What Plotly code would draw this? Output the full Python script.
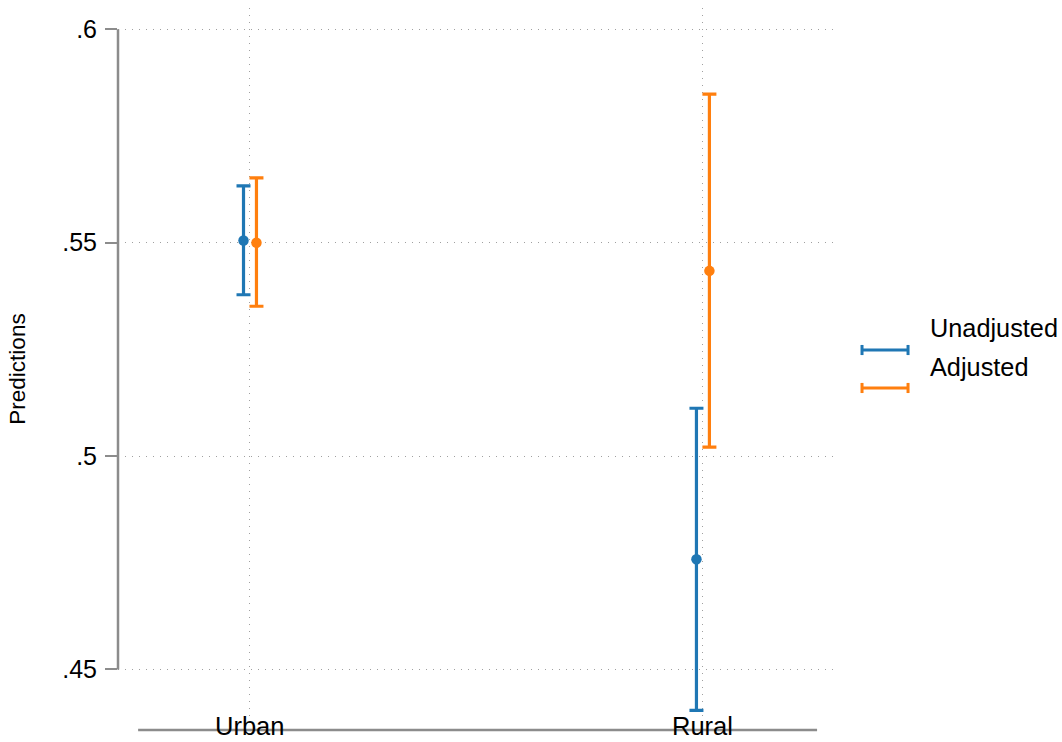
import plotly.graph_objects as go

categories = ["Urban", "Rural"]
series_names = ["Unadjusted", "Adjusted"]
unadj_est = [0.5505, 0.4758]
unadj_lo = [0.5378, 0.4404]
unadj_hi = [0.5633, 0.5112]
adj_est = [0.5500, 0.5434]
adj_lo = [0.5351, 0.5021]
adj_hi = [0.5652, 0.5848]
ytick_vals = [0.45, 0.50, 0.55, 0.60]
ytick_text = [".45", ".5", ".55", ".6"]

colors = ["#1f77b4", "#ff7f0e"]
offsets = [-0.0143, 0.0143]
FONT = "Liberation Sans, Arial, sans-serif"
GRID = "#a0a0a0"
AXIS = "#8c8c8c"

xpos = list(range(1, len(categories) + 1))

fig = go.Figure()
for name, est, lo, hi, col, off in zip(
    series_names,
    [unadj_est, adj_est],
    [unadj_lo, adj_lo],
    [unadj_hi, adj_hi],
    colors,
    offsets,
):
    fig.add_trace(
        go.Scatter(
            x=[p + off for p in xpos],
            y=est,
            mode="markers",
            name=name,
            marker=dict(color=col, size=10.5),
            error_y=dict(
                type="data",
                symmetric=False,
                array=[h - e for h, e in zip(hi, est)],
                arrayminus=[e - l for e, l in zip(est, lo)],
                color=col,
                thickness=3.2,
                width=7,
            ),
            showlegend=False,
        )
    )

# y axis line (only spans tick range)
fig.add_shape(type="line", xref="paper", yref="y", x0=0, x1=0,
              y0=ytick_vals[0], y1=ytick_vals[-1],
              line=dict(color=AXIS, width=2.5))
# x axis line
fig.add_shape(type="line", xref="x", yref="paper", x0=0.753, x1=2.252,
              y0=0, y1=0, line=dict(color=AXIS, width=2.5))

# category labels
for xp, cat in zip(xpos, categories):
    fig.add_annotation(x=xp, y=0, xref="x", yref="paper", text=cat,
                       showarrow=False, yanchor="middle", yshift=4,
                       font=dict(family=FONT, size=25.5, color="black"))

# manual legend
leg_y_sym = [0.5263, 0.4737]
leg_y_txt = [0.5568, 0.5028]
for name, col, ys, yt in zip(series_names, colors, leg_y_sym, leg_y_txt):
    fig.add_shape(type="line", xref="paper", yref="paper",
                  x0=1.0348, x1=1.0988, y0=ys, y1=ys,
                  line=dict(color=col, width=3))
    for xx in [1.0348, 1.0988]:
        fig.add_shape(type="line", xref="paper", yref="paper",
                      x0=xx, x1=xx, y0=ys - 0.007, y1=ys + 0.007,
                      line=dict(color=col, width=3))
    fig.add_annotation(x=1.1266, y=yt, xref="paper", yref="paper", text=name,
                       showarrow=False, xanchor="left", yanchor="middle",
                       font=dict(family=FONT, size=25.3, color="black"))

fig.update_layout(
    width=1062,
    height=742,
    margin=dict(l=118, r=225, t=8, b=12),
    paper_bgcolor="white",
    plot_bgcolor="white",
    font=dict(family=FONT, size=24, color="black"),
    xaxis=dict(
        range=[0.7086, 2.296],
        tickvals=xpos,
        showticklabels=False,
        ticks="",
        showline=False,
        zeroline=False,
        showgrid=True,
        gridcolor=GRID,
        gridwidth=1,
        griddash="1px,6px",
    ),
    yaxis=dict(
        range=[0.4358, 0.605],
        tickvals=ytick_vals,
        ticktext=ytick_text,
        ticks="outside",
        ticklen=12,
        tickwidth=2,
        tickcolor=AXIS,
        ticklabelstandoff=3,
        showline=False,
        zeroline=False,
        showgrid=True,
        gridcolor=GRID,
        gridwidth=1,
        griddash="1px,6px",
        tickfont=dict(family=FONT, size=25, color="black"),
        title=dict(text="Predictions", font=dict(family=FONT, size=22.5, color="black"), standoff=30),
    ),
)

fig.write_html("out.html")
